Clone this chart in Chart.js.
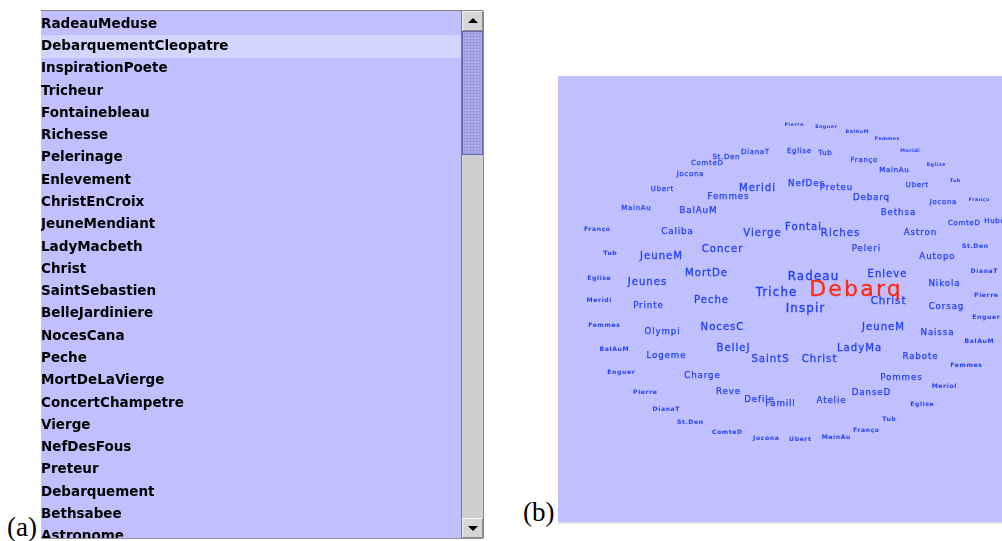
<!DOCTYPE html>
<html>
<head>
<meta charset="utf-8">
<script src="https://cdn.jsdelivr.net/npm/chart.js@4.4.1/dist/chart.umd.min.js"></script>
<style>
html,body{margin:0;padding:0;background:#ffffff;width:1002px;height:541px;overflow:hidden;position:relative;}
#listBox{position:absolute;left:41px;top:11px;width:420px;height:527px;overflow:hidden;background:#c0c0ff;}
#listCanvas{position:absolute;left:0;top:-6px;}
#topLine{position:absolute;left:41px;top:10px;width:442px;height:1px;background:#808080;}
#botLine{position:absolute;left:41px;top:538px;width:442px;height:1px;background:#909090;}
#sb{position:absolute;left:461px;top:11px;width:21px;height:527px;background:#cfcfcf;border-left:1px solid #7c7c7c;border-right:1px solid #8a8a8a;}
.btn{position:absolute;left:0;width:19px;height:18px;background:#d6d6d6;border-top:1px solid #f4f4f4;border-left:1px solid #f4f4f4;border-bottom:1px solid #8a8a8a;border-right:1px solid #8a8a8a;}
#up{top:0;}
#down{top:507px;}
.tri{position:absolute;left:5px;width:0;height:0;border-left:5px solid transparent;border-right:5px solid transparent;}
#up .tri{top:6px;border-bottom:5px solid #000;}
#down .tri{top:7px;border-top:5px solid #000;}
#thumb{position:absolute;left:0;top:20px;width:19px;height:122px;border:1px solid #6a6ab4;
  background-color:#a8a8e8;
  background-image:radial-gradient(circle,#8484cc 0.8px,transparent 1px);
  background-size:3px 3px;}
#scatterBox{position:absolute;left:558px;top:76px;width:444px;height:446px;background:#c0c0ff;}
#scatterCanvas{position:absolute;left:0;top:0;}
#shadow{position:absolute;left:558px;top:522px;width:444px;height:2px;background:#e2e2e2;}
.tag{position:absolute;font-family:"Liberation Serif","Times New Roman",serif;font-size:27px;color:#000;line-height:1;}
#tagA{left:7px;top:514px;}
#tagB{left:523px;top:499px;}
</style>
</head>
<body>
<div id="listBox"><canvas id="listCanvas" width="420" height="551"></canvas></div>
<div id="topLine"></div>
<div id="botLine"></div>
<div id="sb">
  <div id="up" class="btn"><div class="tri"></div></div>
  <div id="thumb"></div>
  <div id="down" class="btn"><div class="tri"></div></div>
</div>
<div id="scatterBox"><canvas id="scatterCanvas" width="444" height="446"></canvas></div>
<div id="shadow"></div>
<div class="tag" id="tagA">(a)</div>
<div class="tag" id="tagB">(b)</div>
<script>
// ---------- Panel (a): list of paintings ----------
const listItems = [
  "RadeauMeduse","DebarquementCleopatre","InspirationPoete","Tricheur","Fontainebleau",
  "Richesse","Pelerinage","Enlevement","ChristEnCroix","JeuneMendiant","LadyMacbeth",
  "Christ","SaintSebastien","BelleJardiniere","NocesCana","Peche","MortDeLaVierge",
  "ConcertChampetre","Vierge","NefDesFous","Preteur","Debarquement","Bethsabee","Astronome"
];
const selectedItem = "DebarquementCleopatre";

// ---------- Panel (b): word map around the selected item ----------
// map coordinates (centre = selected item), level = ring of similarity (0 = selected)
const wordLabels = [
  "Radeau","Triche","Inspir",
  "Meridi","Fontai","Vierge","Riches","Concer","JeuneM","Jeunes","MortDe","Enleve","Christ",
  "Peche","NocesC","JeuneM","BelleJ","SaintS","Christ","LadyMa",
  "Femmes","BalAuM","NefDes","Preteu","Debarq","Bethsa","Caliba","Astron","Autopo","Peleri",
  "Nikola","Corsag","Naissa","Rabote","Pommes","DanseD","Atelie","Famill","Defile","Reve",
  "Charge","Logeme","Olympi","Printe",
  "DianaT","Eglise","Tub","St.Den","Franço","ComteD","MainAu","Jocona","Ubert","Ubert",
  "Jocona","MainAu","ComteD","Hubert",
  "Franço","Tub","Eglise","Meridi","Femmes","BalAuM","Enguer","Pierre","DianaT","St.Den",
  "ComteD","Jocona","Ubert","MainAu","Franço","Tub","Eglise","Meriol","Femmes","BalAuM",
  "Enguer","Pierre","DianaT","St.Den",
  "Pierre","Enguer","BalAuM","Femmes","Meridi","Eglise","Tub","Franço",
  "Debarq"
];
const wordX = [
  -42,-79,-50,
  -98,-52,-93,-15,-133,-194,-208,-149,32,33,
  -144,-133,28,-122,-85,-36,4,
  -127,-157,-49,-19,16,43,-178,65,82,11,
  89,91,82,65,46,16,-24,-75,-96,-127,
  -153,-189,-193,-207,
  -100,-56,-30,-129,9,-148,39,-165,-193,62,
  88,-219,109,143,
  -258,-245,-256,-256,-251,-241,-234,-210,-189,-165,
  -128,-89,-55,-19,11,34,67,89,111,124,
  131,131,129,120,
  -61,-29,2,32,55,81,100,124,
  0
];
const wordY = [
  13,-3,-19,
  102,63,57,57,41,34,8,17,16,-11,
  -10,-37,-37,-58,-69,-69,-58,
  93,79,106,102,92,77,58,57,33,41,
  6,-17,-43,-67,-88,-103,-111,-114,-110,-102,
  -86,-66,-42,-16,
  138,139,137,133,130,127,120,116,101,105,
  88,82,67,69,
  61,37,12,-10,-35,-59,-82,-102,-119,-132,
  -142,-148,-149,-147,-140,-129,-114,-96,-75,-51,
  -27,-5,19,44,
  165,163,158,151,139,125,109,90,
  0
];
const wordLevel = [
  1,1,1,
  2,2,2,2,2,2,2,2,2,2,
  2,2,2,2,2,2,2,
  3,3,3,3,3,3,3,3,3,3,
  3,3,3,3,3,3,3,3,3,3,
  3,3,3,3,
  4,4,4,4,4,4,4,4,4,4,
  4,4,4,4,
  5,5,5,5,5,5,5,5,5,5,
  5,5,5,5,5,5,5,5,5,5,
  5,5,5,5,
  6,6,6,6,6,6,6,6,
  0
];

// ---------- styles ----------
const levelStyle = {
  0:{size:22,   weight:'normal', color:'#ff2a12', stroke:0.3},
  1:{size:11.8, weight:'normal', color:'#2140fa', stroke:0.35},
  2:{size:10.1, weight:'normal', color:'#2140fa', stroke:0.3},
  3:{size:8.7,  weight:'normal', color:'#2140fa', stroke:0.25},
  4:{size:7.0,  weight:'normal', color:'#2140fa', stroke:0.25},
  5:{size:6.1,  weight:'bold',   color:'#2140fa', stroke:0},
  6:{size:4.8,  weight:'bold',   color:'#2140fa', stroke:0}
};

// ---------- chart (a) ----------
new Chart(document.getElementById('listCanvas'), {
  type: 'bar',
  data: {
    labels: listItems,
    datasets: [{
      data: listItems.map(n => n === selectedItem ? 1 : null),
      backgroundColor: '#d2d6ff',
      borderWidth: 0,
      barPercentage: 1,
      categoryPercentage: 1
    }]
  },
  options: {
    indexAxis: 'y',
    responsive: false,
    animation: false,
    layout: {padding: 0},
    plugins: {legend: {display: false}, tooltip: {enabled: false}},
    scales: {
      x: {display: false, min: 0, max: 1},
      y: {
        grid: {display: false, drawTicks: false},
        border: {display: false},
        ticks: {
          z: 1,
          mirror: true, padding: 0, autoSkip: false, color: '#000000',
          font: {family: '"DejaVu Sans"', weight: 'bold', size: 13.5}
        }
      }
    }
  }
});

// ---------- chart (b) ----------
const wordPlugin = {
  id: 'wordLabels',
  afterDatasetsDraw(chart) {
    const ctx = chart.ctx;
    const meta = chart.getDatasetMeta(0);
    ctx.save();
    ctx.textAlign = 'center';
    ctx.textBaseline = 'middle';
    meta.data.forEach((pt, i) => {
      const st = levelStyle[wordLevel[i]];
      ctx.font = st.weight + ' ' + st.size + 'px "DejaVu Sans"';
      const ls = 0.1 * st.size;
      if ('letterSpacing' in ctx) ctx.letterSpacing = ls.toFixed(2) + 'px';
      ctx.fillStyle = st.color;
      ctx.fillText(wordLabels[i], pt.x + ls / 2, pt.y);
      if (st.stroke > 0) {
        ctx.strokeStyle = st.color;
        ctx.lineWidth = st.stroke;
        ctx.strokeText(wordLabels[i], pt.x + ls / 2, pt.y);
      }
    });
    ctx.restore();
  }
};

new Chart(document.getElementById('scatterCanvas'), {
  type: 'scatter',
  data: {
    datasets: [{
      data: wordX.map((x, i) => ({x: x, y: wordY[i]})),
      pointRadius: 0,
      pointHoverRadius: 0
    }]
  },
  options: {
    responsive: false,
    animation: false,
    layout: {padding: 0},
    plugins: {legend: {display: false}, tooltip: {enabled: false}},
    scales: {
      x: {display: false, min: -297, max: 147},
      y: {display: false, min: -232, max: 214}
    }
  },
  plugins: [wordPlugin]
});
</script>
</body>
</html>
